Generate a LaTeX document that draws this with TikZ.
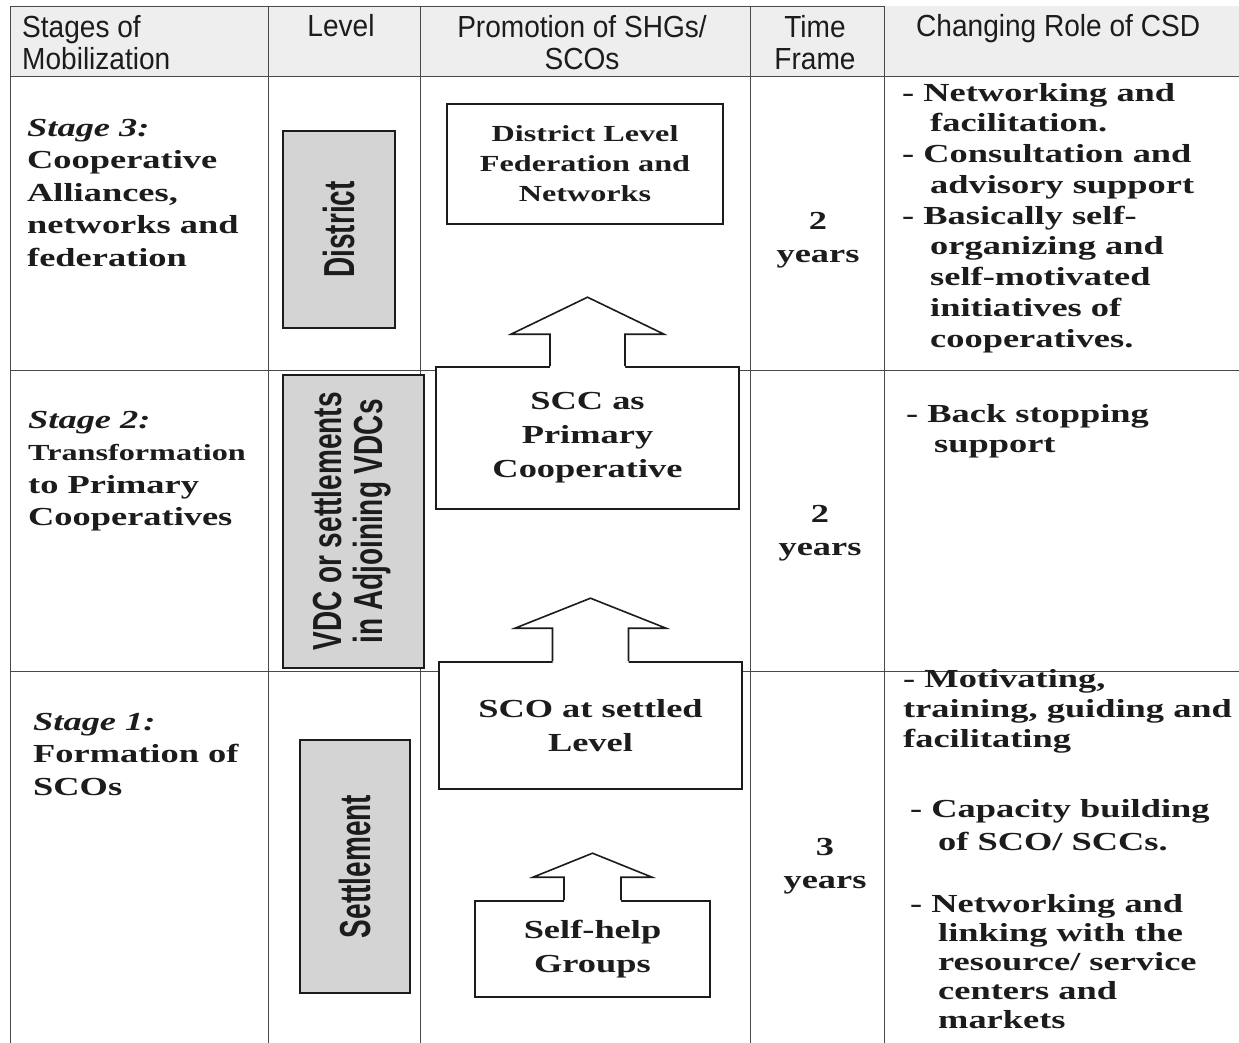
\documentclass[tikz,border=0pt]{standalone}
\usepackage{fontspec}
\setmainfont{Liberation Serif}[FakeStretch=1.4]
\newfontfamily\hdrfont{Liberation Sans}[FakeStretch=0.92]
\newfontfamily\lvlfont{Liberation Sans}
\usepackage{graphicx}
\usetikzlibrary{positioning, calc}
\definecolor{inkgray}{RGB}{28,28,28}
\definecolor{levelgray}{RGB}{212,212,212}
\definecolor{hdrgray}{RGB}{238,238,238}
\tikzset{
  gridline/.style={line width=0.9pt, draw=inkgray!80},
  hdrtxt/.style={inner sep=0pt, text=inkgray, font=\hdrfont\fontsize{30.5}{32}\selectfont},
  stagetxt/.style={anchor=north west, inner sep=0pt, align=left, text=inkgray,
    font=\fontsize{26}{32.5}\selectfont\bfseries},
  levelbox/.style={rectangle, rotate=90, draw=inkgray, line width=1.6pt, fill=levelgray,
    inner sep=0pt, text=inkgray, font=\lvlfont\bfseries\fontsize{28}{28}\selectfont},
  promobox/.style={rectangle, draw=inkgray, line width=1.6pt, fill=white,
    inner sep=0pt, align=center, text=inkgray, font=\fontsize{26}{34}\selectfont\bfseries},
  timetxt/.style={inner sep=0pt, align=center, text=inkgray,
    font=\fontsize{26}{33}\selectfont\bfseries},
  roletxt/.style={anchor=north west, inner sep=0pt, align=left, text=inkgray,
    font=\fontsize{26}{30.75}\selectfont\bfseries},
  blockarrow/.style={line width=1.6pt, draw=inkgray},
}
% block arrow on top of a box: node, stem half width, wing half width, wing rise, tip rise
\newcommand{\promoarrow}[5]{%
  \fill[white] ($(#1.north)+(-#2,1.8)$) -- ($(#1.north)+(-#2,-#4)$) -- ($(#1.north)+(-#3,-#4)$)
    -- ($(#1.north)+(0,-#5)$) -- ($(#1.north)+(#3,-#4)$) -- ($(#1.north)+(#2,-#4)$)
    -- ($(#1.north)+(#2,1.8)$) -- cycle;
  \draw[blockarrow] ($(#1.north)+(-#2,0)$) -- ($(#1.north)+(-#2,-#4)$) -- ($(#1.north)+(-#3,-#4)$)
    -- ($(#1.north)+(0,-#5)$) -- ($(#1.north)+(#3,-#4)$) -- ($(#1.north)+(#2,-#4)$)
    -- ($(#1.north)+(#2,0)$);
}
\newcommand{\ind}{\hspace*{28pt}}

\begin{document}
\begin{tikzpicture}[x=1pt, y=-1pt]

  \clip (0,0) rectangle (1239,1043);
  \fill[white] (0,0) rectangle (1239,1043);
  \fill[hdrgray] (10,6) rectangle (1239,76);

  % --- Table grid ---
  \foreach \cx in {10,268,420,750,884}
    \draw[gridline] (\cx,6) -- (\cx,1043);
  \draw[gridline] (10,6) -- (884,6);
  \foreach \ry in {76,370,671}
    \draw[gridline] (10,\ry) -- (1239,\ry);

  % --- Header row ---
  \node[hdrtxt, anchor=north west, align=left] (hstage) at (22,15) {Stages of\\Mobilization};
  \node[hdrtxt, anchor=base] (hlevel) at (341,37) {Level};
  \node[hdrtxt, anchor=north, align=center] (hpromo) at (582,15) {Promotion of SHGs/\\SCOs};
  \node[hdrtxt, anchor=north, align=center] (htime) at (815,15) {Time\\Frame};
  \node[hdrtxt, anchor=base west] (hrole) at (916,37) {Changing Role of CSD};

  % --- Stages of mobilization ---
  \node[stagetxt] (st3) at (27,119)
    {\textit{Stage 3:}\\Cooperative\\Alliances,\\networks and\\federation};
  \node[stagetxt] (st2) at (28,411)
    {\textit{Stage 2:}\\{\fontsize{23}{32.5}\selectfont Transformation}\\to Primary\\Cooperatives};
  \node[stagetxt] (st1) at (33,713)
    {\textit{Stage 1:}\\Formation of\\SCOs};

  % --- Level boxes ---
  \node[levelbox, minimum width=197pt, minimum height=112pt] (lvdist) at (339,229.5)
    {\scalebox{1}[1.55]{District}};
  \node[levelbox, minimum width=293pt, minimum height=141pt] (lvvdc) at (353.5,521.5)
    {\scalebox{1}[1.45]{\begin{tabular}{@{}c@{}}VDC or settlements\\in Adjoining VDCs\end{tabular}}};
  \node[levelbox, minimum width=253pt, minimum height=110pt] (lvsett) at (355,866.5)
    {\scalebox{1}[1.55]{Settlement}};

  % --- Promotion of SHGs/SCOs ---
  \node[promobox, minimum width=276pt, minimum height=120pt,
        font=\fontsize{23}{30}\selectfont\bfseries] (dlf) at (585,164)
    {District Level\\Federation and\\Networks};
  \node[promobox, minimum width=303pt, minimum height=142pt] (scc) at (587.5,438)
    {SCC as\\Primary\\Cooperative};
  \node[promobox, minimum width=303pt, minimum height=127pt] (sco) at (590.5,725.5)
    {SCO at settled\\Level};
  \node[promobox, minimum width=235pt, minimum height=96pt] (shg) at (592.5,949)
    {Self-help\\Groups};

  % --- Upward block arrows ---
  \promoarrow{scc}{37.5}{76.5}{32}{69}
  \promoarrow{sco}{38}{75.5}{33}{63}
  \promoarrow{shg}{28.5}{59.5}{23}{47}

  % --- Time frame ---
  \node[timetxt] (tf3) at (818,240) {2\\years};
  \node[timetxt] (tf2) at (820,533) {2\\years};
  \node[timetxt] (tf1) at (825,866) {3\\years};

  % --- Changing role of CSD ---
  \node[roletxt] (role3) at (902,83)
    {- Networking and\\\ind facilitation.\\- Consultation and\\\ind advisory support\\- Basically self-\\\ind organizing and\\\ind self-motivated\\\ind initiatives of\\\ind cooperatives.};
  \node[roletxt] (role2) at (906,404) {- Back stopping\\\ind support};
  \node[roletxt, font=\fontsize{26}{30}\selectfont\bfseries] (role1a) at (903,669)
    {- Motivating,\\training, guiding and\\facilitating};
  \node[roletxt, font=\fontsize{26}{33}\selectfont\bfseries] (role1b) at (910,799)
    {- Capacity building\\\ind of SCO/ SCCs.};
  \node[roletxt, font=\fontsize{26}{29}\selectfont\bfseries] (role1c) at (910,894)
    {- Networking and\\\ind linking with the\\\ind resource/ service\\\ind centers and\\\ind markets};

\end{tikzpicture}
\end{document}
